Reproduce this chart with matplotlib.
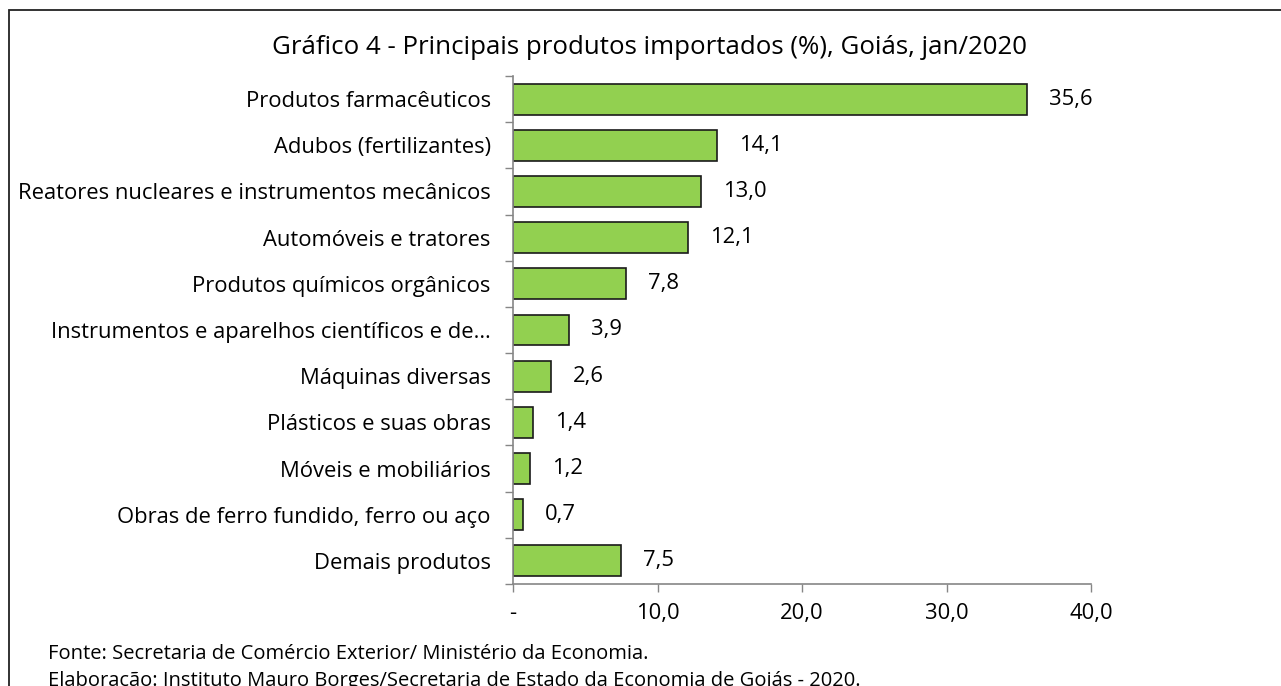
import matplotlib.pyplot as plt
from matplotlib.patches import Rectangle
from matplotlib.ticker import FixedLocator

plt.rcParams['font.family'] = ['Open Sans', 'DejaVu Sans']

produtos = [
    'Produtos farmacêuticos',
    'Adubos (fertilizantes)',
    'Reatores nucleares e instrumentos mecânicos',
    'Automóveis e tratores',
    'Produtos químicos orgânicos',
    'Instrumentos e aparelhos científicos e de…',
    'Máquinas diversas',
    'Plásticos e suas obras',
    'Móveis e mobiliários',
    'Obras de ferro fundido, ferro ou aço',
    'Demais produtos',
]
valores = [35.6, 14.1, 13.0, 12.1, 7.8, 3.9, 2.6, 1.4, 1.2, 0.7, 7.5]
ticks_x = [0, 10, 20, 30, 40]
ticks_x_labels = ['-', '10,0', '20,0', '30,0', '40,0']

W, H = 1281, 686
fig = plt.figure(figsize=(W / 100, H / 100), dpi=100)
ax = fig.add_axes([513 / W, 1 - 584 / H, (1091 - 513) / W, (584 - 76) / H])

pos = list(range(len(produtos)))
ax.barh(pos, valores, height=0.67, color='#92D050', edgecolor='#1a1a1a', linewidth=1.2)
ax.set_ylim(len(produtos) - 0.5, -0.5)
ax.set_xlim(0, 40)

fs = 15.8
for p, v in zip(pos, valores):
    ax.annotate(f'{v:.1f}'.replace('.', ','), (v, p), xytext=(22, 0),
                textcoords='offset pixels', va='center', ha='left', fontsize=fs)

ax.set_yticks(pos)
ax.set_yticklabels(produtos, fontsize=fs)
ax.tick_params(axis='y', length=0, pad=16)
ax.yaxis.set_minor_locator(FixedLocator([i - 0.5 for i in range(len(produtos) + 1)]))
ax.tick_params(axis='y', which='minor', length=5.5, color='#868686', width=1)

ax.set_xticks(ticks_x)
ax.set_xticklabels(ticks_x_labels, fontsize=fs)
ax.tick_params(axis='x', length=5.5, color='#868686', width=1, pad=8)

for s in ['top', 'right']:
    ax.spines[s].set_visible(False)
for s in ['left', 'bottom']:
    ax.spines[s].set_color('#868686')
    ax.spines[s].set_linewidth(1.2)

fig.text(649 / W, 1 - 47 / H, 'Gráfico 4 - Principais produtos importados (%), Goiás, jan/2020',
         ha='center', va='center', fontsize=18.6)
fig.text(48 / W, 1 - 654 / H, 'Fonte: Secretaria de Comércio Exterior/ Ministério da Economia.',
         ha='left', va='center', fontsize=14.5)
fig.text(48 / W, 1 - 681 / H,
         'Elaboração: Instituto Mauro Borges/Secretaria de Estado da Economia de Goiás - 2020.',
         ha='left', va='center', fontsize=14.5)

fig.patches.append(Rectangle((9 / W, -0.1), 1.2, 1 - 10 / H + 0.1, transform=fig.transFigure,
                             fill=False, edgecolor='#222222', linewidth=1.3))

fig.savefig('out.png', dpi=100)
